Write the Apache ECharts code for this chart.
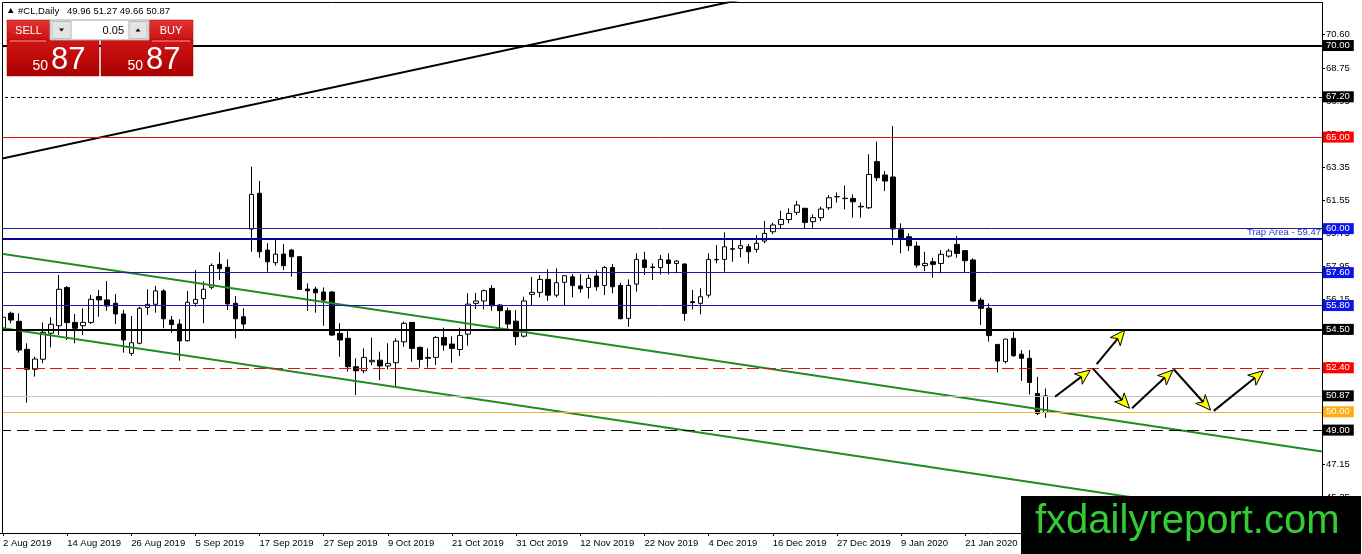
<!DOCTYPE html>
<html><head><meta charset="utf-8">
<script src="https://cdn.jsdelivr.net/npm/echarts@6/dist/echarts.min.js"></script>
<style>html,body{margin:0;padding:0;background:#fff;}#c{width:1362px;height:554px;}</style>
</head><body><div id="c"></div>
<script>
// ---------- data ----------
const dateLabels = ['2 Aug 2019','14 Aug 2019','26 Aug 2019','5 Sep 2019','17 Sep 2019','27 Sep 2019','9 Oct 2019','21 Oct 2019','31 Oct 2019','12 Nov 2019','22 Nov 2019','4 Dec 2019','16 Dec 2019','27 Dec 2019','9 Jan 2020','21 Jan 2020'];
const totalSlots = 165;
const opens = [54.56,55.38,54.94,53.41,52.32,52.87,54.29,54.70,56.78,54.88,54.70,54.88,56.29,56.11,55.92,55.34,53.19,53.74,55.70,55.87,
 56.60,55.01,54.79,53.88,55.92,56.18,56.80,58.05,57.89,55.92,55.19,59.98,61.93,58.83,58.14,58.61,58.83,58.47,56.70,56.70,
 56.54,56.54,54.28,54.01,52.46,52.24,52.73,52.82,52.50,52.68,53.82,54.88,53.52,52.92,52.97,54.06,53.70,53.40,54.24,55.92,
 56.05,56.74,55.83,55.52,54.95,54.13,56.41,56.52,57.23,56.37,57.07,57.37,56.87,56.79,57.41,56.90,57.88,56.90,55.10,56.97,
 58.29,57.90,57.88,58.29,58.10,58.07,56.01,55.92,56.37,58.30,58.32,58.90,58.92,59.01,58.87,59.32,59.83,60.23,60.50,60.89,
 61.11,60.38,60.60,61.14,61.75,61.66,61.65,61.22,61.14,63.66,62.93,62.82,59.94,59.56,59.05,57.98,58.19,58.10,58.50,59.14,
 58.80,58.29,56.10,55.65,53.68,52.74,54.01,53.14,52.92,51.00,49.96];
const highs = [56.01,55.47,55.38,53.74,53.01,54.88,55.16,57.47,56.87,55.34,55.65,56.38,56.65,57.14,56.43,55.56,55.23,55.74,56.69,56.87,
 56.69,55.23,55.05,56.60,57.74,57.11,58.10,58.71,58.32,56.32,55.65,63.38,62.60,59.20,59.47,59.16,58.90,58.50,57.01,56.83,
 56.79,56.60,54.83,54.46,52.92,53.46,54.04,53.28,53.74,54.01,54.92,54.90,53.55,53.46,54.13,54.59,54.13,54.59,56.47,56.50,
 56.68,56.92,55.88,55.70,55.55,56.28,57.37,57.47,57.78,57.83,57.45,57.52,57.52,57.50,57.74,57.96,58.07,57.05,57.23,58.65,
 58.74,58.10,58.56,58.65,58.28,58.10,56.65,56.74,58.65,59.10,59.80,59.41,59.41,59.16,59.65,60.43,60.32,60.98,61.11,61.51,
 61.14,60.78,61.20,61.83,61.98,62.35,61.87,61.43,64.06,64.75,63.15,65.60,60.29,59.74,59.29,58.74,58.41,58.83,58.89,59.61,
 58.83,58.38,56.23,55.92,53.68,53.97,54.37,53.37,53.37,51.91,51.27];
const lows = [54.10,54.83,53.23,50.50,51.92,52.65,53.52,54.19,53.92,53.74,54.19,54.79,55.19,55.52,54.79,53.23,53.05,53.68,55.29,55.41,
 54.56,54.32,52.79,53.83,55.74,54.83,56.69,57.20,55.56,54.01,54.43,58.74,58.41,57.65,57.98,57.74,57.38,56.65,55.52,55.41,
 54.70,54.13,53.01,52.19,50.91,52.10,52.55,51.73,52.32,51.37,53.55,52.73,52.42,52.42,52.55,53.33,52.68,53.04,53.61,55.61,
 55.59,55.52,54.55,54.46,53.64,54.06,55.77,56.25,56.06,56.25,55.77,56.25,56.50,56.19,56.61,56.37,56.47,55.05,54.64,56.56,
 57.47,57.19,57.50,57.50,57.56,54.97,55.59,55.32,56.23,58.10,57.65,58.19,58.43,58.10,58.69,59.20,59.70,60.01,60.29,60.74,
 59.98,60.05,60.41,61.02,61.43,61.05,60.60,60.60,61.07,62.60,62.05,59.10,58.65,58.78,57.87,57.68,57.32,57.56,58.41,58.41,
 57.61,56.01,54.74,53.83,52.15,52.64,53.00,51.68,50.95,49.82,49.66];
const closes = [55.16,55.01,53.37,52.32,52.88,54.34,54.78,56.69,54.87,54.56,54.88,56.14,56.11,55.78,55.34,53.92,53.77,55.65,55.87,56.60,
 55.08,54.76,53.87,55.98,56.14,56.69,57.99,57.81,55.89,55.08,54.79,61.87,58.74,58.19,58.61,57.98,58.47,56.68,56.61,56.50,
 56.10,54.19,53.92,52.46,52.24,52.97,52.81,52.50,52.64,53.86,54.83,53.46,52.86,52.97,54.06,53.64,53.46,54.17,55.88,56.05,
 56.61,55.79,55.52,54.79,54.10,56.05,56.52,57.23,56.37,57.05,57.43,56.90,56.72,57.28,56.83,57.88,56.83,55.08,56.90,58.32,
 57.88,57.88,58.32,58.10,58.23,55.37,55.96,56.28,58.32,58.32,59.01,58.88,59.07,58.74,59.20,59.74,60.20,60.50,60.83,61.29,
 60.34,60.60,61.07,61.69,61.74,61.64,61.47,61.19,62.96,62.78,62.60,59.98,59.50,59.07,58.01,58.10,58.05,58.60,58.78,58.65,
 58.25,56.05,55.65,54.16,52.77,53.97,53.06,52.92,51.60,49.91,50.87];
const yTickValues = [45.35,47.15,48.95,50.75,52.55,54.35,56.15,57.95,59.75,61.55,63.35,65.15,66.95,68.75,70.60];
const levelValues = [70.00,67.20,65.00,60.00,57.60,55.80,54.50,52.40,50.87,50.00,49.00];
const trapValue = 59.47;
const trapText = 'Trap Area - 59.47';
const blackTrend = [[-0.4,63.80],[93,72.60]];
const greenUpper = [[-0.4,58.65],[164.5,47.83]];
const greenLower = [[-0.4,54.59],[164.5,43.77]];
const arrowSegs = [
  [131.2,50.82,135.6,52.28],
  [136.4,52.60,139.9,54.46],
  [135.9,52.37,140.5,50.19],
  [140.8,50.19,145.9,52.28],
  [146.0,52.32,150.6,50.09],
  [151.0,50.05,157.2,52.24]
];
const symbolName = '#CL,Daily';
const ohlcText = '49.96 51.27 49.66 50.87';
const lotText = '0.05';
const bidBig = '50', bidSmallDigits = '87';
const watermark = 'fxdailyreport.com';

// ---------- chart ----------
const FONT = 'Liberation Sans, Arial, sans-serif';
const slots = Array.from({length: totalSlots}, (_, i) => String(i));
const candleData = opens.map((o, i) => [o, closes[i], lows[i], highs[i]]);
const labelInterval = (idx) => idx % 8 === 0 && idx / 8 < dateLabels.length;

const levelLook = [
  {line:'#000000', w:2, type:'solid', box:'#000000'},
  {line:'#000000', w:1, type:[3,3], box:'#000000'},
  {line:'#e01010', w:1, type:'solid', box:'#ff0000'},
  {line:'#1a1aa6', w:1, type:'solid', box:'#0a14e6'},
  {line:'#1a1aa6', w:1, type:'solid', box:'#0a14e6'},
  {line:'#1a1aa6', w:1, type:'solid', box:'#0a14e6'},
  {line:'#000000', w:2, type:'solid', box:'#000000'},
  {line:'#e01010', w:1, type:[12,5], box:'#ff0000'},
  {line:'#c4c4c4', w:1, type:'solid', box:'#000000'},
  {line:'#f2b13a', w:1, type:'solid', box:'#ffab12'},
  {line:'#000000', w:1, type:[12,6], box:'#000000'}
];
const markData = levelValues.map((v, i) => ({
  yAxis: v,
  lineStyle: {color: levelLook[i].line, width: levelLook[i].w, type: levelLook[i].type},
  label: {show:true, position:'end', distance:1, formatter: v.toFixed(2),
    backgroundColor: levelLook[i].box, color:'#fff', padding:[1,4,0,3],
    fontSize:9.5, fontFamily: FONT}
}));
markData.push({
  yAxis: trapValue,
  lineStyle: {color:'#00009c', width:2, type:'solid'},
  label: {show:true, position:'insideEndTop', distance:1, formatter: trapText,
    color:'#2a3cc8', fontSize:9.5, fontFamily: FONT}
});

function renderArrow(params, api) {
  const p0 = api.coord([api.value(0), api.value(1)]);
  const p1 = api.coord([api.value(2), api.value(3)]);
  const dx = p1[0]-p0[0], dy = p1[1]-p0[1];
  const len = Math.hypot(dx, dy) || 1;
  const ux = dx/len, uy = dy/len, nx = -uy, ny = ux;
  const L = 15, W = 6.5, N = 4;
  const bx = p1[0]-ux*L, by = p1[1]-uy*L;
  const left = [bx+nx*W, by+ny*W], right = [bx-nx*W, by-ny*W];
  const notch = [p1[0]-ux*(L-N), p1[1]-uy*(L-N)];
  return {type:'group', children:[
    {type:'line', shape:{x1:p0[0], y1:p0[1], x2:notch[0], y2:notch[1]}, style:{stroke:'#000', lineWidth:2}},
    {type:'polygon', shape:{points:[p1, left, notch, right]}, style:{fill:'#ffff00', stroke:'#000', lineWidth:1}}
  ]};
}

function redGrad(top, bottom) {
  return new echarts.graphic.LinearGradient(0,0,0,1,[{offset:0,color:top},{offset:1,color:bottom}]);
}

const chart = echarts.init(document.getElementById('c'), null, {renderer:'canvas'});
const option = {
  animation: false,
  backgroundColor: '#ffffff',
  grid: {left:-1, right:40, top:2.5, bottom:21, outerBoundsMode:'none', containLabel:false},
  xAxis: [
    {type:'category', data: slots, boundaryGap:true,
     axisLine:{show:true, lineStyle:{color:'#000', width:1}},
     axisTick:{show:true, alignWithLabel:true, interval: labelInterval, length:3, lineStyle:{color:'#000'}},
     axisLabel:{interval: labelInterval, formatter:(v, i) => dateLabels[i/8] || '', align:'left',
       color:'#000', fontSize:9.5, fontFamily: FONT, margin:5},
     splitLine:{show:false}},
    {type:'value', min:-0.5, max: totalSlots-0.5, show:false}
  ],
  yAxis: {type:'value', position:'right', min:43.38, max:72.35,
    axisLine:{show:true, onZero:false, lineStyle:{color:'#000', width:1}},
    axisTick:{show:true, length:3, customValues: yTickValues, lineStyle:{color:'#000'}},
    axisLabel:{customValues: yTickValues, formatter:(v) => Number(v).toFixed(2), color:'#000',
      fontSize:9.5, fontFamily: FONT, margin:4},
    splitLine:{show:false}},
  series: [
    {type:'candlestick', xAxisIndex:0, yAxisIndex:0, data: candleData, barWidth:5,
     itemStyle:{color:'#ffffff', color0:'#000000', borderColor:'#000000', borderColor0:'#000000', borderWidth:1},
     markLine:{silent:true, symbol:['none','none'], animation:false, data: markData}},
    {type:'line', xAxisIndex:1, yAxisIndex:0, data: blackTrend, symbol:'none', silent:true, z:3,
     lineStyle:{color:'#000', width:2}},
    {type:'line', xAxisIndex:1, yAxisIndex:0, data: greenUpper, symbol:'none', silent:true, z:3,
     lineStyle:{color:'#1e8c1e', width:2}},
    {type:'line', xAxisIndex:1, yAxisIndex:0, data: greenLower, symbol:'none', silent:true, z:3,
     lineStyle:{color:'#1e8c1e', width:2}},
    {type:'custom', xAxisIndex:1, yAxisIndex:0, data: arrowSegs, renderItem: renderArrow,
     encode:{x:[0,2], y:[1,3]}, clip:false, silent:true, z:5}
  ],
  graphic: [
    {type:'rect', z:90, silent:true, shape:{x:0, y:0, width:2, height:533}, style:{fill:'#fff'}},
    {type:'line', z:91, silent:true, shape:{x1:2.5, y1:2.5, x2:2.5, y2:533}, style:{stroke:'#000', lineWidth:1}},
    {type:'line', z:91, silent:true, shape:{x1:2.5, y1:2.5, x2:1322, y2:2.5}, style:{stroke:'#000', lineWidth:1}},
    // header
    {type:'polygon', z:95, silent:true, shape:{points:[[8,13],[13.5,13],[10.75,8]]}, style:{fill:'#000'}},
    {type:'text', z:95, silent:true, x:18, y:11, style:{text: symbolName, fill:'#000', font:'9.5px '+FONT, verticalAlign:'middle'}},
    {type:'text', z:95, silent:true, x:67, y:11, style:{text: ohlcText, fill:'#000', font:'9.5px '+FONT, verticalAlign:'middle'}},
    // sell/buy panel
    {type:'rect', z:95, silent:true, shape:{x:7, y:20, width:43, height:21}, style:{fill: redGrad('#e43434','#c90f0f'), stroke:'#b30000', lineWidth:0.5}},
    {type:'rect', z:95, silent:true, shape:{x:149, y:20, width:44, height:21}, style:{fill: redGrad('#e43434','#c90f0f'), stroke:'#b30000', lineWidth:0.5}},
    {type:'rect', z:95, silent:true, shape:{x:7, y:40, width:92, height:36}, style:{fill: redGrad('#d11414','#a90000'), stroke:'#9a0000', lineWidth:0.5}},
    {type:'rect', z:95, silent:true, shape:{x:101, y:40, width:92, height:36}, style:{fill: redGrad('#d11414','#a90000'), stroke:'#9a0000', lineWidth:0.5}},
    {type:'line', z:96, silent:true, shape:{x1:10, y1:41, x2:46, y2:41}, style:{stroke:'#f29a9a', lineWidth:1}},
    {type:'line', z:96, silent:true, shape:{x1:152, y1:41, x2:190, y2:41}, style:{stroke:'#f29a9a', lineWidth:1}},
    {type:'text', z:96, silent:true, x:28.5, y:31, style:{text:'SELL', fill:'#fff', font:'11px '+FONT, align:'center', verticalAlign:'middle'}},
    {type:'text', z:96, silent:true, x:171, y:31, style:{text:'BUY', fill:'#fff', font:'11px '+FONT, align:'center', verticalAlign:'middle'}},
    {type:'rect', z:95, silent:true, shape:{x:50, y:20, width:99, height:20}, style:{fill:'#efefef', stroke:'#a8a8a8', lineWidth:1}},
    {type:'rect', z:96, silent:true, shape:{x:52, y:21.5, width:19, height:17}, style:{fill:'#e4e4e4', stroke:'#bdbdbd', lineWidth:1}},
    {type:'rect', z:96, silent:true, shape:{x:72, y:21, width:56, height:18}, style:{fill:'#ffffff'}},
    {type:'rect', z:96, silent:true, shape:{x:129, y:21.5, width:18, height:17}, style:{fill:'#e4e4e4', stroke:'#bdbdbd', lineWidth:1}},
    {type:'polygon', z:97, silent:true, shape:{points:[[59,28.5],[64,28.5],[61.5,31.5]]}, style:{fill:'#000'}},
    {type:'polygon', z:97, silent:true, shape:{points:[[135.5,31.5],[140.5,31.5],[138,28.5]]}, style:{fill:'#000'}},
    {type:'text', z:97, silent:true, x:124, y:30.5, style:{text: lotText, fill:'#000', font:'11px '+FONT, align:'right', verticalAlign:'middle'}},
    {type:'text', z:97, silent:true, x:48, y:66, style:{text: bidBig, fill:'#fff', font:'14px '+FONT, align:'right', verticalAlign:'middle'}},
    {type:'text', z:97, silent:true, x:51, y:60, style:{text: bidSmallDigits, fill:'#fff', font:'31px '+FONT, align:'left', verticalAlign:'middle'}},
    {type:'text', z:97, silent:true, x:143, y:66, style:{text: bidBig, fill:'#fff', font:'14px '+FONT, align:'right', verticalAlign:'middle'}},
    {type:'text', z:97, silent:true, x:146, y:60, style:{text: bidSmallDigits, fill:'#fff', font:'31px '+FONT, align:'left', verticalAlign:'middle'}},
    // watermark
    {type:'rect', z:98, silent:true, shape:{x:1021, y:496, width:340, height:58}, style:{fill:'#000'}},
    {type:'text', z:99, silent:true, x:1035, y:522, style:{text: watermark, fill:'#33cc33', font:'40px '+FONT, verticalAlign:'middle'}}
  ]
};
chart.setOption(option);
</script>
</body></html>
